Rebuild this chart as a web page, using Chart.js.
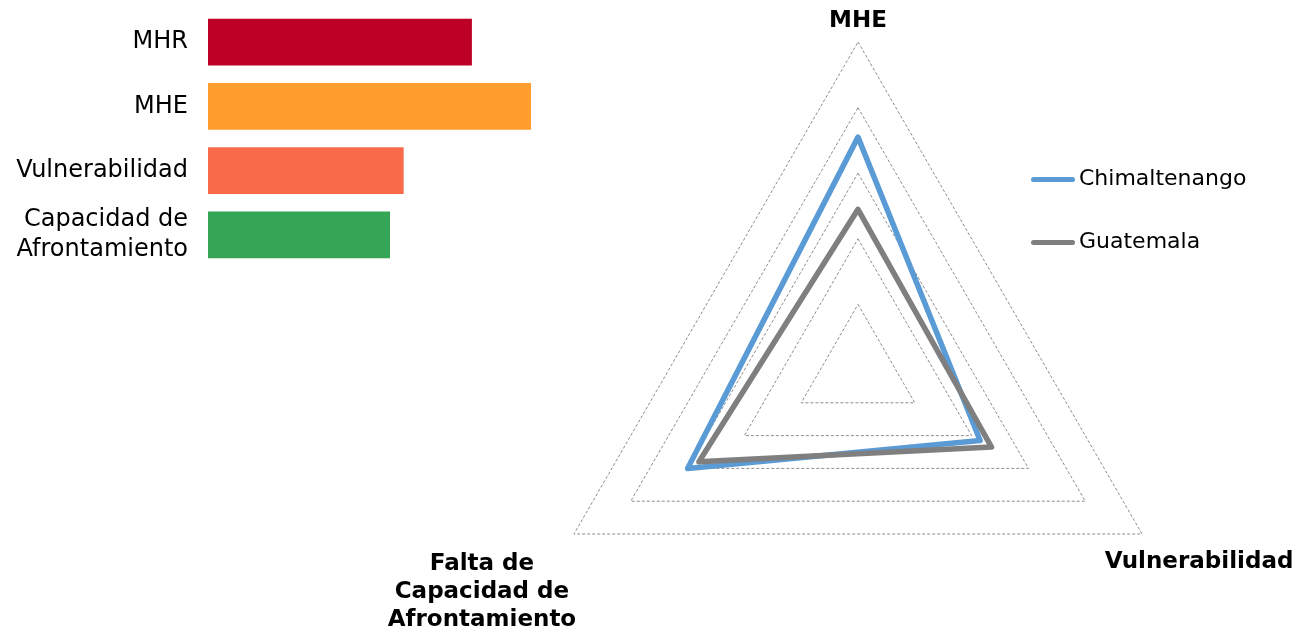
<!DOCTYPE html>
<html>
<head>
<meta charset="utf-8">
<script src="https://cdn.jsdelivr.net/npm/chart.js@4.4.1/dist/chart.umd.min.js"></script>
<style>
    body{margin:0;width:1298px;height:631px;overflow:hidden;background:#fff;position:relative;font-family:"DejaVu Sans",sans-serif;}
    #bars{position:absolute;left:0;top:0;}
    #radar{position:absolute;left:360px;top:0;}
    .legend-item{position:absolute;left:1031px;height:30px;line-height:30px;font-size:22px;color:#000;white-space:nowrap;}
    .legend-item span{display:inline-block;width:44px;height:5px;border-radius:3px;vertical-align:middle;margin-right:4px;}
</style>
</head>
<body>
<canvas id="bars" width="700" height="280"></canvas>
<canvas id="radar" width="938" height="700"></canvas>
<div class="legend-item" style="top:163px"><span style="background:#5B9BD5"></span>Chimaltenango</div>
<div class="legend-item" style="top:226px"><span style="background:#7F7F7F"></span>Guatemala</div>
<script>
// bar chart data
const barLabels = ['MHR', 'MHE', 'Vulnerabilidad', ['Capacidad de', 'Afrontamiento']];
const barValues = [5.8, 7.1, 4.3, 4.0];
const barColors = ['#BD0026', '#FF9D2E', '#F96A4B', '#35A556'];

// radar data
const radarAxes = ['MHE', 'Vulnerabilidad', ['Falta de', 'Capacidad de', 'Afrontamiento']];
const chimaltenango = [7.1, 4.3, 6.0];
const guatemala = [4.9, 4.7, 5.6];

Chart.defaults.font.family = '"DejaVu Sans", sans-serif';
Chart.defaults.animation = false;

new Chart(document.getElementById('bars'), {
    type: 'bar',
    data: {
        labels: barLabels,
        datasets: [{
            data: barValues,
            backgroundColor: barColors,
            barPercentage: 0.73,
            categoryPercentage: 1
        }]
    },
    options: {
        responsive: false,
        indexAxis: 'y',
        layout: {padding: {top: 10, bottom: 13, left: 0, right: 37}},
        plugins: {legend: {display: false}, tooltip: {enabled: false}},
        scales: {
            x: {display: false, min: 0, max: 10},
            y: {
                grid: {display: false, drawTicks: false},
                border: {display: false},
                ticks: {color: '#000', padding: 20, autoSkip: false, font: {size: 24, lineHeight: 1.25}},
                afterFit(scale){
                    scale.width = 208;
                    scale.paddingTop = 0;
                    scale.paddingBottom = 0;
                }
            }
        }
    }
});

// axis names drawn next to the radar corners
const labelOffsets = [[0, -21], [57, 28], [-92, 30]];
const axisLabels = {
    id: 'axisLabels',
    afterDraw(chart){
        const scale = chart.scales.r;
        const ctx = chart.ctx;
        ctx.save();
        ctx.font = 'bold 23px "DejaVu Sans"';
        ctx.fillStyle = '#000';
        ctx.textAlign = 'center';
        ctx.textBaseline = 'middle';
        radarAxes.forEach((lab, i) => {
            const p = scale.getPointPosition(i, scale.drawingArea);
            const off = labelOffsets[i];
            [].concat(lab).forEach((t, k) => ctx.fillText(t, p.x + off[0], p.y + off[1] + k * 28));
        });
        ctx.restore();
    }
};

new Chart(document.getElementById('radar'), {
    type: 'radar',
    data: {
        labels: radarAxes,
        datasets: [
            {label: 'Chimaltenango', data: chimaltenango, borderColor: '#5B9BD5', order: 2},
            {label: 'Guatemala', data: guatemala, borderColor: '#7F7F7F', order: 1}
        ]
    },
    options: {
        responsive: false,
        layout: {padding: {left: 170, right: 112, top: 42, bottom: 2}},
        elements: {
            line: {borderWidth: 5.5, fill: false, tension: 0, borderJoinStyle: 'round'},
            point: {radius: 0, hoverRadius: 0}
        },
        plugins: {legend: {display: false}, tooltip: {enabled: false}},
        scales: {
            r: {
                min: 0,
                max: 10,
                ticks: {display: false, stepSize: 2},
                angleLines: {display: false},
                pointLabels: {display: false},
                grid: {color: '#8c8c8c', lineWidth: 1},
                border: {dash: [3, 2]}
            }
        }
    },
    plugins: [axisLabels]
});
</script>
</body>
</html>
